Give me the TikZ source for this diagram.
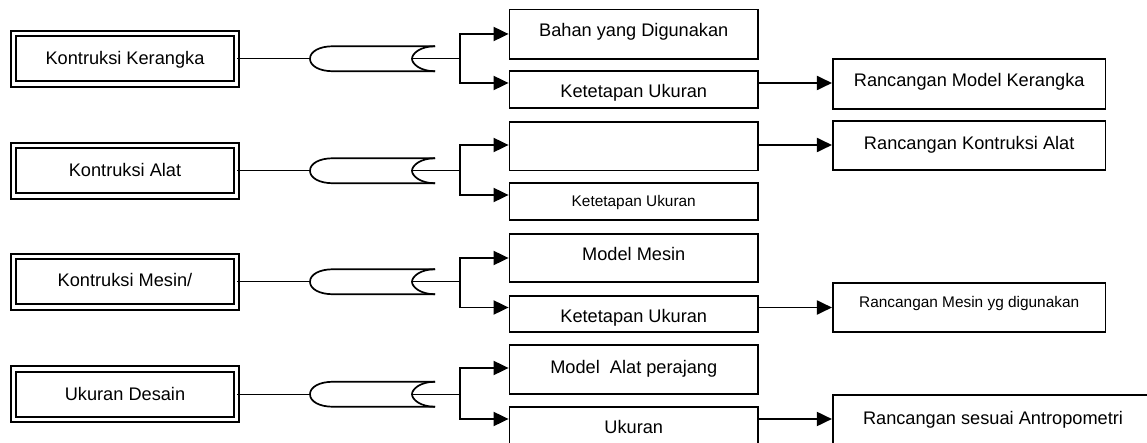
\documentclass[tikz,border=0pt]{standalone}
\usepackage{fontspec}
\setmainfont{Liberation Sans}
\usetikzlibrary{arrows.meta}
\begin{document}
\begin{tikzpicture}[x=1pt,y=-1pt,
  lbox/.style={draw, double, line width=1.8pt, double distance=3.6pt, minimum width=223pt, minimum height=50.5pt, inner sep=0pt},
  box/.style={draw, line width=1.8pt, inner sep=0pt},
  cbox/.style={box, minimum width=248.5pt},
  rbox/.style={box, minimum width=272.7pt},
  big/.style={font=\fontsize{18.2}{20}\selectfont, anchor=base, inner sep=0pt},
  small/.style={font=\fontsize{15.4}{17}\selectfont, anchor=base, inner sep=0pt},
  conn/.style={line width=1.4pt},
  brk/.style={line width=1.7pt},
  bus/.style={line width=1.9pt, line cap=rect},
  arr/.style={line width=1.9pt, -{Triangle[length=15pt,width=14pt]}},
  junc/.pic={
    \draw[brk] (125,-12.5) -- (23,-12.5) .. controls (9,-12.5) and (0,-7) .. (0,0)
               .. controls (0,7) and (9,12.5) .. (23,12.5) -- (125,12.5);
    \draw[brk] (125,-12.5) .. controls (110,-12.5) and (102,-5) .. (102,0)
               .. controls (102,5) and (110,12.5) .. (125,12.5);
    \coordinate (-in) at (0,0);
    \coordinate (-out) at (102,0);
  }
]
\useasboundingbox (0,0) rectangle (1147,443);
\clip (0,0) rectangle (1147,443);

% left boxes
\node[lbox] (k1) at (125,58.75) {};
\node[lbox] (k2) at (125,170.75) {};
\node[lbox] (k3) at (125,281.75) {};
\node[lbox] (k4) at (125,394.25) {};
\node[big] (tk1) at (125,65) {Kontruksi Kerangka};
\node[big] (tk2) at (125,177) {Kontruksi Alat};
\node[big] (tk3) at (125,287) {Kontruksi Mesin/};
\node[big] (tk4) at (125,400) {Ukuran Desain};

% middle column
\node[cbox, minimum height=49.2pt] (a1) at (633.75,34.1) {};
\node[cbox, minimum height=36.6pt] (b1) at (633.75,89.5) {};
\node[cbox, minimum height=48.7pt] (a2) at (633.75,146.2) {};
\node[cbox, minimum height=37pt]   (b2) at (633.75,201.7) {};
\node[cbox, minimum height=48.4pt] (a3) at (633.75,258) {};
\node[cbox, minimum height=36pt]   (b3) at (633.75,314.2) {};
\node[cbox, minimum height=48.4pt] (a4) at (633.75,369.5) {};
\node[cbox, minimum height=38pt]   (b4) at (633.75,426) {};
\node[big] (ta1) at (633.75,37) {Bahan yang Digunakan};
\node[big] (tb1) at (633.75,98) {Ketetapan Ukuran};
\node[small] (tb2) at (633.75,207) {Ketetapan Ukuran};
\node[big] (ta3) at (633.75,261) {Model Mesin};
\node[big] (tb3) at (633.75,322) {Ketetapan Ukuran};
\node[big] (ta4) at (633.75,373) {Model\ \ Alat perajang};
\node[big] (tb4) at (633.75,433) {Ukuran};

% right column
\node[rbox, minimum height=49.9pt] (r1) at (969.2,83.8) {};
\node[rbox, minimum height=49.1pt] (r2) at (969.2,145.8) {};
\node[rbox, minimum height=49.2pt] (r3) at (969.2,307.4) {};
\node[box, minimum width=320.4pt, minimum height=50.3pt] (r4) at (993,419.85) {};
\node[big] (tr1) at (969.2,87) {Rancangan Model Kerangka};
\node[big] (tr2) at (969.2,150) {Rancangan Kontruksi Alat};
\node[small] (tr3) at (969.2,307) {Rancangan Mesin yg digunakan};
\node[big] (tr4) at (993,424) {Rancangan sesuai Antropometri};

% junctions
\pic (j1) at (310,58.75) {junc};
\pic (j2) at (310,170.75) {junc};
\pic (j3) at (310,281.75) {junc};
\pic (j4) at (310,394.25) {junc};

% bus coordinates
\coordinate (u1) at (460,34);    \coordinate (d1) at (460,83);
\coordinate (u2) at (460,145);   \coordinate (d2) at (460,195);
\coordinate (u3) at (460,258);   \coordinate (d3) at (460,307.5);
\coordinate (u4) at (460,368);   \coordinate (d4) at (460,419);

\foreach \i in {1,2,3,4}{
  \draw[conn] (k\i.east) -- (j\i-in);
  \draw[conn] (j\i-out) -- (j\i-out -| u\i);
  \draw[bus] (u\i) -- (d\i);
  \draw[arr] (u\i) -- (u\i -| a\i.west);
  \draw[arr] (d\i) -- (d\i -| b\i.west);
}

% right arrows
\draw[arr] (d1 -| b1.east) -- (d1 -| r1.west);
\draw[arr] (u2 -| a2.east) -- (u2 -| r2.west);
\draw[arr] (d3 -| b3.east) -- (d3 -| r3.west);
\draw[arr] (d4 -| b4.east) -- (d4 -| r4.west);
\end{tikzpicture}
\end{document}
